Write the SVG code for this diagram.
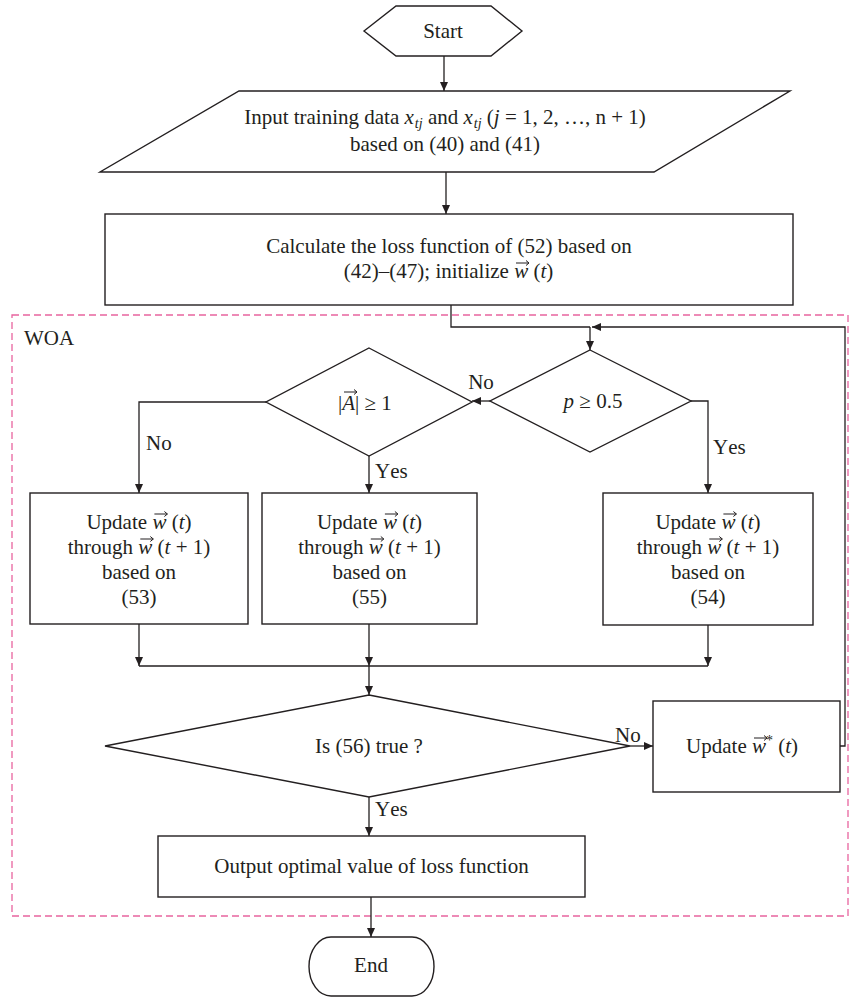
<svg xmlns="http://www.w3.org/2000/svg" width="851" height="998" viewBox="0 0 851 998">
<defs>
<marker id="ah" viewBox="0 0 9 8" refX="9" refY="4" markerWidth="9" markerHeight="8" markerUnits="userSpaceOnUse" orient="auto"><path d="M0,0 L9,4 L0,8 Z" fill="#231f20"/></marker>
</defs>
<style>
text{font-family:"Liberation Serif","Times New Roman",serif;font-size:21px;fill:#231f20;font-kerning:none}
.c{text-anchor:middle}
.e{text-anchor:end}
.it{font-style:italic}
.sub{font-size:14px;font-style:italic}
.shape{fill:#fff;stroke:#231f20;stroke-width:1.4}
.ln{fill:none;stroke:#231f20;stroke-width:1.3}
.arr{marker-end:url(#ah)}
.vec{fill:none;stroke:#231f20;stroke-width:1}
</style>
<rect width="851" height="998" fill="#fff"/>
<g id="woa">
<rect x="12" y="315" width="836" height="601" fill="none" stroke="#e8649f" stroke-width="1.3" stroke-dasharray="7 4"/>
<text x="24" y="345">WOA</text>
</g>
<g id="connectors">
<path class="ln arr" d="M444,56 V91"/>
<path class="ln arr" d="M446,172 V214"/>
<path class="ln" d="M451,305 V327 H590"/>
<path class="ln arr" d="M590,327 V350"/>
<path class="ln arr" d="M840,746 H845 V327 H592"/>
<path class="ln arr" d="M490,401 H472"/>
<path class="ln arr" d="M266,402 H139 V493"/>
<path class="ln arr" d="M369,456 V493"/>
<path class="ln arr" d="M691,401 H708 V493"/>
<path class="ln arr" d="M139,624 V666"/>
<path class="ln arr" d="M369,624 V666"/>
<path class="ln arr" d="M708,624 V666"/>
<path class="ln" d="M139,666 H708"/>
<path class="ln arr" d="M369,666 V695"/>
<path class="ln arr" d="M630,746 H653"/>
<path class="ln arr" d="M369,797 V836"/>
<path class="ln arr" d="M371,897 V937"/>
</g>
<g id="edge-labels">
<text class="c" x="481" y="389">No</text>
<text x="146" y="450">No</text>
<text x="375" y="478">Yes</text>
<text x="713" y="454">Yes</text>
<text x="615" y="742">No</text>
<text x="375" y="816">Yes</text>
</g>
<g id="start">
<polygon class="shape" points="364,31 396,6 491,6 522,31 491,56 396,56"/>
<text class="c" x="443" y="38">Start</text>
</g>
<g id="input">
<polygon class="shape" points="239,91 790,91 654,172 100,172"/>
<text class="c" x="445" y="124">Input training data <tspan class="it">x</tspan><tspan class="sub" dx="1" dy="4">tj</tspan><tspan dy="-4"> and </tspan><tspan class="it">x</tspan><tspan class="sub" dx="1" dy="4">tj</tspan><tspan dy="-4"> (</tspan><tspan class="it">j</tspan> = 1, 2, …, n + 1)</text>
<text class="c" x="445" y="151">based on (40) and (41)</text>
</g>
<g id="calc">
<rect class="shape" x="105" y="214" width="688" height="91"/>
<text class="c" x="449" y="253">Calculate the loss function of (52) based on</text>
<text class="e" x="508.9" y="278">(42)–(47); initialize</text>
<text x="514.2" y="278"><tspan class="it">w</tspan> (<tspan class="it">t</tspan>)</text>
<path class="vec" d="M516,263 H529 M526,260.5 L529,263 L526,265.5"/>
</g>
<g id="dec-p">
<polygon class="shape" points="590,350 691,401 590,452 490,401"/>
<text class="c" x="593" y="408"><tspan class="it">p</tspan> ≥ 0.5</text>
</g>
<g id="dec-a">
<polygon class="shape" points="369,348 472,402 369,456 266,402"/>
<text x="338" y="410">|<tspan class="it">A</tspan>| ≥ 1</text>
<path class="vec" d="M344,392 H357 M354,389.5 L357,392 L354,394.5"/>
</g>
<g id="upd-53">
<rect class="shape" x="30" y="493" width="218" height="131"/>
<text class="e" x="147.1" y="529">Update</text>
<text x="152.4" y="529"><tspan class="it">w</tspan> (<tspan class="it">t</tspan>)</text>
<path class="vec" d="M154.4,514 H167.4 M164.4,511.5 L167.4,514 L164.4,516.5"/>
<text class="e" x="133.05" y="554">through</text>
<text x="138.3" y="554"><tspan class="it">w</tspan> (<tspan class="it">t</tspan> + 1)</text>
<path class="vec" d="M140.3,539 H153.3 M150.3,536.5 L153.3,539 L150.3,541.5"/>
<text class="c" x="139" y="579">based on</text>
<text class="c" x="139" y="604">(53)</text>
</g>
<g id="upd-55">
<rect class="shape" x="262" y="493" width="215" height="131"/>
<text class="e" x="377.6" y="529">Update</text>
<text x="382.9" y="529"><tspan class="it">w</tspan> (<tspan class="it">t</tspan>)</text>
<path class="vec" d="M384.9,514 H397.9 M394.9,511.5 L397.9,514 L394.9,516.5"/>
<text class="e" x="363.55" y="554">through</text>
<text x="368.8" y="554"><tspan class="it">w</tspan> (<tspan class="it">t</tspan> + 1)</text>
<path class="vec" d="M370.8,539 H383.8 M380.8,536.5 L383.8,539 L380.8,541.5"/>
<text class="c" x="369.5" y="579">based on</text>
<text class="c" x="369.5" y="604">(55)</text>
</g>
<g id="upd-54">
<rect class="shape" x="603" y="493" width="210" height="132"/>
<text class="e" x="716.1" y="529">Update</text>
<text x="721.4" y="529"><tspan class="it">w</tspan> (<tspan class="it">t</tspan>)</text>
<path class="vec" d="M723.4,514 H736.4 M733.4,511.5 L736.4,514 L733.4,516.5"/>
<text class="e" x="702.05" y="554">through</text>
<text x="707.3" y="554"><tspan class="it">w</tspan> (<tspan class="it">t</tspan> + 1)</text>
<path class="vec" d="M709.3,539 H722.3 M719.3,536.5 L722.3,539 L719.3,541.5"/>
<text class="c" x="708" y="579">based on</text>
<text class="c" x="708" y="604">(54)</text>
</g>
<g id="dec-56">
<polygon class="shape" points="369,695 630,746 369,797 105,746"/>
<text class="c" x="369" y="753">Is (56) true ?</text>
</g>
<g id="upd-best">
<rect class="shape" x="653" y="701" width="187" height="91"/>
<text class="e" x="746.75" y="753">Update</text>
<text x="752" y="753"><tspan class="it">w</tspan><tspan font-size="14" dy="-8">*</tspan><tspan dy="8"> (</tspan><tspan class="it">t</tspan>)</text>
<path class="vec" d="M754,738 H767 M764,735.5 L767,738 L764,740.5"/>
</g>
<g id="output">
<rect class="shape" x="158" y="836" width="427" height="61"/>
<text class="c" x="371.5" y="873">Output optimal value of loss function</text>
</g>
<g id="end">
<rect class="shape" x="309" y="937" width="125" height="59" rx="22" ry="29.5"/>
<text class="c" x="371" y="972">End</text>
</g>
</svg>
